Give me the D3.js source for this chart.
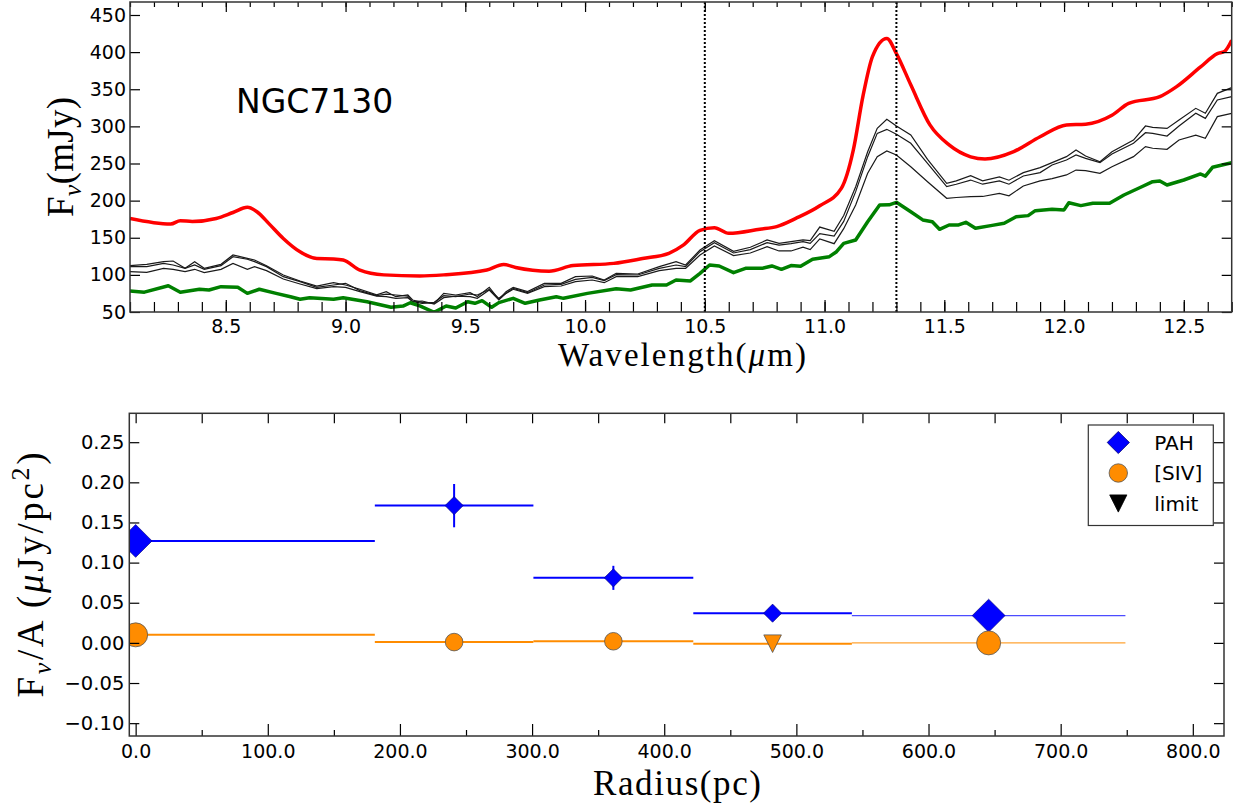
<!DOCTYPE html>
<html>
<head>
<meta charset="utf-8">
<script src="https://cdn.jsdelivr.net/npm/d3@7"></script>
<style>
  body { margin: 0; background: #fff; }
  svg { font-family: "DejaVu Sans", sans-serif; }
</style>
</head>
<body>
<div id="chart"></div>
<script>
/* global d3 */

var w = 1233,
    h = 809;

// ---- top panel: NGC7130 spectra (wavelength in micron, flux in mJy) ----
var wlRed = [8.10, 8.27, 8.31, 8.36, 8.46, 8.53, 8.59, 8.63, 8.68, 8.74, 8.81, 8.88, 8.95, 8.99, 9.06, 9.16, 9.31, 9.41, 9.59, 9.66,
    9.71, 9.85, 9.95, 10.12, 10.24, 10.35, 10.41, 10.48, 10.54, 10.60, 10.73, 10.80, 10.88, 10.98, 11.07, 11.12, 11.16, 11.20, 11.26, 11.30,
    11.36, 11.44, 11.52, 11.61, 11.67, 11.79, 11.90, 12.01, 12.09, 12.20, 12.27, 12.40, 12.47, 12.57, 12.64, 12.67, 12.70];
var fluxRed = [176, 168.5, 173, 172, 176, 184, 191, 185, 169, 149, 131, 122, 121.5, 120, 106.5, 100, 98.5, 100, 106.5, 114,
    110, 105, 112.5, 115.5, 122, 129, 140, 160, 163.5, 156, 161.5, 165, 176, 193, 216.5, 268, 340, 394, 418.5, 398,
    356, 302, 275, 259, 256, 266, 286, 302, 303, 315, 331, 340, 353.5, 380, 398, 401, 416];

var wlGreen = [8.10, 8.16, 8.26, 8.31, 8.39, 8.43, 8.48, 8.55, 8.59, 8.64, 8.71, 8.77, 8.81, 8.85, 8.95, 8.99, 9.09, 9.19, 9.24, 9.27,
    9.31, 9.37, 9.42, 9.46, 9.51, 9.54, 9.57, 9.61, 9.64, 9.70, 9.75, 9.81, 9.88, 9.91, 10.01, 10.13, 10.19, 10.28, 10.34, 10.38,
    10.44, 10.48, 10.52, 10.56, 10.62, 10.67, 10.74, 10.78, 10.82, 10.86, 10.90, 10.95, 11.02, 11.05, 11.08, 11.13, 11.18, 11.23, 11.27, 11.30,
    11.36, 11.41, 11.45, 11.48, 11.52, 11.56, 11.59, 11.63, 11.70, 11.75, 11.80, 11.85, 11.88, 11.95, 12.00, 12.02, 12.07, 12.12, 12.19, 12.25,
    12.32, 12.37, 12.40, 12.43, 12.50, 12.57, 12.59, 12.62, 12.70];
var fluxGreen = [78.3, 76.7, 85.4, 76.5, 80.6, 79.7, 84.1, 83.2, 75.1, 80.6, 75.1, 70.6, 67.1, 69.3, 67.1, 69.3, 63.9, 56.3, 58, 62.5,
    58.2, 49.6, 58, 55.3, 63.9, 61.7, 65.3, 56.3, 62.6, 68.4, 61.7, 66.2, 70.6, 68.4, 75.1, 81.4, 79.7, 86.4, 86.4, 93.1,
    91.8, 102.1, 113.3, 112, 103, 108.8, 108.8, 112, 107.5, 112.5, 111.5, 121, 124.5, 131.2, 142.5, 147, 171.6, 194, 194.3, 197.7,
    185, 174, 171.6, 161.4, 167.2, 167.2, 170.8, 162.7, 166.7, 169.5, 178.4, 179.8, 186.5, 188.4, 187.5, 197.2, 193.3, 196.4, 196.4, 207.6,
    218, 225.5, 226.5, 221, 227.8, 235.9, 232.9, 244.9, 251];

var wlBlack = [8.10, 8.17, 8.24, 8.28, 8.33, 8.37, 8.41, 8.48, 8.53, 8.59, 8.62, 8.67, 8.74, 8.81, 8.88, 8.95, 9.00, 9.06, 9.13, 9.17,
    9.21, 9.26, 9.28, 9.32, 9.37, 9.41, 9.46, 9.52, 9.55, 9.60, 9.64, 9.67, 9.70, 9.76, 9.83, 9.90, 9.96, 10.03, 10.08, 10.13,
    10.22, 10.31, 10.38, 10.42, 10.48, 10.54, 10.62, 10.69, 10.76, 10.81, 10.86, 10.91, 10.94, 10.98, 11.04, 11.08, 11.13, 11.18, 11.22, 11.26,
    11.30, 11.36, 11.43, 11.51, 11.55, 11.61, 11.66, 11.73, 11.77, 11.83, 11.90, 11.95, 12.01, 12.05, 12.09, 12.15, 12.20, 12.29, 12.34, 12.37,
    12.43, 12.48, 12.55, 12.59, 12.64, 12.70];
var fluxBlack1 = [112.4, 114.2, 117.8, 118.7, 108.8, 117.8, 108.8, 114.2, 126.8, 122.3, 120, 112.4, 99.8, 91.8, 85, 89.5, 86.4, 80.6, 73, 77.4,
    70.6, 72.9, 66.2, 63, 61.7, 75.1, 72.9, 76, 70.7, 83.2, 67.1, 77.4, 83.2, 77.4, 88.6, 88.6, 97.6, 98.5, 93.1, 102.1,
    101.2, 111.1, 117.8, 113.3, 133.5, 146.1, 131.8, 137.2, 147, 142.5, 144.7, 147, 146.1, 164.4, 158.6, 180, 218.8, 265.9, 297.3, 309.5,
    300.5, 288.4, 255.6, 223.3, 226.6, 233.5, 226.6, 232, 227.5, 237.7, 244.4, 251.2, 259.2, 268.2, 260.1, 252.4, 265.9, 281.6, 300.5, 298.7,
    297.3, 308.6, 324.3, 317.6, 344.5, 352.2];
var fluxBlack2 = [111.1, 111.1, 115.5, 113.3, 108.8, 113.3, 107.5, 112.4, 124.5, 121, 117.8, 111.1, 97.6, 90.9, 83.2, 86.4, 88.6, 78.8, 72, 74,
    72.9, 71.5, 63.9, 61.7, 63, 72, 70.7, 74.2, 72.9, 80.5, 68.4, 75.1, 81.9, 76, 86.4, 87.2, 94, 96.7, 92.2, 100.3,
    99.8, 108.8, 113.3, 111.1, 131.3, 143.4, 129.5, 134, 143.4, 140, 142, 144.7, 142.5, 155.5, 152.3, 172, 212.1, 259.2, 290.6, 296,
    289.3, 277.2, 250.2, 218.8, 222.1, 227.7, 222.1, 226.6, 222.1, 233.2, 237.7, 248, 254.7, 261.5, 256.9, 251.1, 262.8, 277.2, 291.5, 290.6,
    287, 300.5, 317.6, 310.8, 335.5, 340];
var fluxBlack3 = [104.3, 103.5, 108.8, 107.5, 104.3, 107.5, 103, 107.5, 115.5, 107.5, 111.1, 105.7, 94.4, 87.7, 81.4, 84.1, 83.2, 77.4, 71.5, 70.7,
    68.4, 69.3, 63.9, 64.8, 60.8, 69.3, 71.5, 70.7, 68.4, 79.6, 66.2, 75.1, 80.6, 75.1, 84.1, 85, 90.9, 93.1, 89.5, 97.6,
    97.6, 105.7, 108.8, 108.8, 126.8, 138.9, 126, 129.5, 138, 132.2, 132.2, 137.2, 134, 148.5, 142, 162.2, 194.1, 236.8, 259.2, 266.8,
    261.4, 245.7, 225.5, 203.1, 204.2, 205.3, 205.6, 209.8, 206.5, 219.7, 226.6, 229.7, 234.6, 241.2, 240.3, 236.8, 245.7, 259.2, 272.7, 270.5,
    269.1, 281.6, 288.3, 284, 313.1, 317.6];

var featureLines = [10.5, 11.3];
var specTicksX = [8.5, 9.0, 9.5, 10.0, 10.5, 11.0, 11.5, 12.0, 12.5];
var specTicksY = [50, 100, 150, 200, 250, 300, 350, 400, 450];

// ---- bottom panel: surface brightness vs radius ----
var radius = [0, 241, 361.5, 482, 645.5];
var binLo = [0, 181, 301, 422, 542];
var binHi = [181, 301, 422, 542, 749];
var pahFlux = [0.127, 0.171, 0.081, 0.037, 0.034];
var pahErr = [0.018, 0.027, 0.015, 0.004, 0.004];
var sivFlux = [0.010, 0.001, 0.002, -0.001, 0.000];
var sivLimit = [false, false, false, true, false];
var profTicksX = [0, 100, 200, 300, 400, 500, 600, 700, 800];
var profMinorX = [50, 150, 250, 350, 450, 550, 650, 750];
var profTicksY = [-0.10, -0.05, 0.00, 0.05, 0.10, 0.15, 0.20, 0.25];
var legendNames = ["PAH", "[SIV]", "limit"];

var blue = "#0000ff", orange = "#ff8c00";

var svg = d3.select("#chart").append("svg")
    .attr("width", w)
    .attr("height", h);

function styleAxis(sel, fontSize) {
    sel.select(".domain").remove();
    sel.attr("font-family", "DejaVu Sans").attr("font-size", fontSize);
    sel.selectAll(".tick line").attr("stroke", "#000").attr("stroke-width", 1.2);
    sel.selectAll(".tick text").attr("fill", "#000");
}

// =================== top panel ===================
var x1 = d3.scaleLinear().domain([8.1, 12.7]).range([130, 1231.7]);
var y1 = d3.scaleLinear().domain([50, 467.5]).range([312, 2]);

svg.append("clipPath").attr("id", "clip1")
    .append("rect")
    .attr("x", x1.range()[0]).attr("y", y1.range()[1])
    .attr("width", x1.range()[1] - x1.range()[0])
    .attr("height", y1.range()[0] - y1.range()[1]);

var g1 = svg.append("g");
var plot1 = g1.append("g").attr("clip-path", "url(#clip1)");

var specLine = d3.line()
    .x(function(d) { return x1(d[0]); })
    .y(function(d) { return y1(d[1]); });

plot1.append("path")
    .datum(d3.zip(wlRed, fluxRed))
    .attr("fill", "none").attr("stroke", "#ff0000").attr("stroke-width", 3.5)
    .attr("stroke-linejoin", "round")
    .attr("d", specLine.curve(d3.curveMonotoneX));

specLine.curve(d3.curveLinear);
[fluxBlack1, fluxBlack2, fluxBlack3].forEach(function(f) {
    plot1.append("path")
        .datum(d3.zip(wlBlack, f))
        .attr("fill", "none").attr("stroke", "#1a1a1a").attr("stroke-width", 1.2)
        .attr("d", specLine);
});

plot1.append("path")
    .datum(d3.zip(wlGreen, fluxGreen))
    .attr("fill", "none").attr("stroke", "#008000").attr("stroke-width", 3.5)
    .attr("stroke-linejoin", "round")
    .attr("d", specLine);

plot1.selectAll(".feature")
    .data(featureLines)
    .enter().append("line")
    .attr("class", "feature")
    .attr("x1", function(d) { return x1(d); })
    .attr("x2", function(d) { return x1(d); })
    .attr("y1", y1.range()[0]).attr("y2", y1.range()[1])
    .attr("stroke", "#000").attr("stroke-width", 2)
    .attr("stroke-dasharray", "2,2");

// axes
g1.append("g").attr("transform", "translate(0," + y1.range()[0] + ")")
    .call(d3.axisBottom(x1).tickValues(x1.ticks(46)).tickSize(-10).tickFormat(""))
    .call(styleAxis, 19);
g1.append("g").attr("transform", "translate(0," + y1.range()[0] + ")")
    .call(d3.axisBottom(x1).tickValues(specTicksX).tickSize(-12).tickPadding(8).tickFormat(d3.format(".1f")))
    .call(styleAxis, 19);
g1.append("g").attr("transform", "translate(0," + y1.range()[1] + ")")
    .call(d3.axisTop(x1).tickValues(x1.ticks(46)).tickSize(-5).tickFormat(""))
    .call(styleAxis, 19);
g1.append("g").attr("transform", "translate(0," + y1.range()[1] + ")")
    .call(d3.axisTop(x1).tickValues(specTicksX).tickSize(-10).tickFormat(""))
    .call(styleAxis, 19);
g1.append("g").attr("transform", "translate(" + x1.range()[0] + ",0)")
    .call(d3.axisLeft(y1).tickValues(specTicksY).tickSize(-10).tickPadding(4))
    .call(styleAxis, 19);
g1.append("g").attr("transform", "translate(" + x1.range()[1] + ",0)")
    .call(d3.axisRight(y1).tickValues(specTicksY).tickSize(-10).tickFormat(""))
    .call(styleAxis, 19);

g1.append("rect")
    .attr("x", x1.range()[0]).attr("y", y1.range()[1])
    .attr("width", x1.range()[1] - x1.range()[0])
    .attr("height", y1.range()[0] - y1.range()[1])
    .attr("fill", "none").attr("stroke", "#333").attr("stroke-width", 1.5);

g1.append("text")
    .attr("x", 236).attr("y", 113)
    .attr("font-size", 33)
    .text("NGC7130");

// axis labels (serif, like mathtext)
g1.append("text")
    .attr("x", 682).attr("y", 366)
    .attr("text-anchor", "middle")
    .attr("font-family", "Liberation Serif, serif").attr("font-size", 33)
    .attr("textLength", 248).attr("lengthAdjust", "spacing")
    .call(function(t) {
        t.append("tspan").text("Wavelength(");
        t.append("tspan").attr("font-style", "italic").text("\u03bc");
        t.append("tspan").text("m)");
    });

g1.append("text")
    .attr("transform", "translate(73,157) rotate(-90)")
    .attr("text-anchor", "middle")
    .attr("font-family", "Liberation Serif, serif").attr("font-size", 37)
    .attr("textLength", 120).attr("lengthAdjust", "spacing")
    .call(function(t) {
        t.append("tspan").text("F");
        t.append("tspan").attr("font-style", "italic").attr("font-size", 26).attr("dy", 8).text("\u03bd");
        t.append("tspan").attr("dy", -8).text("(mJy)");
    });

// =================== bottom panel ===================
var x2 = d3.scaleLinear().domain([-4.8, 823.6]).range([129.3, 1224]);
var y2 = d3.scaleLinear().domain([-0.116, 0.286]).range([736, 413.3]);

svg.append("clipPath").attr("id", "clip2")
    .append("rect")
    .attr("x", x2.range()[0]).attr("y", y2.range()[1])
    .attr("width", x2.range()[1] - x2.range()[0])
    .attr("height", y2.range()[0] - y2.range()[1]);

var g2 = svg.append("g");
var plot2 = g2.append("g").attr("clip-path", "url(#clip2)");

var last = radius.length - 1;
function isBig(i) { return i === 0 || i === last; }

var diamond = d3.symbol().type(d3.symbolSquare);
var dot = d3.symbol().type(d3.symbolCircle);

function triangleDown(s) {
    var p = d3.path();
    p.moveTo(-s, -s);
    p.lineTo(s, -s);
    p.lineTo(0, s);
    p.closePath();
    return p.toString();
}

// PAH
plot2.selectAll(".pah-x")
    .data(radius)
    .enter().append("line")
    .attr("x1", function(d, i) { return x2(binLo[i]); })
    .attr("x2", function(d, i) { return x2(binHi[i]); })
    .attr("y1", function(d, i) { return y2(pahFlux[i]); })
    .attr("y2", function(d, i) { return y2(pahFlux[i]); })
    .attr("stroke", blue)
    .attr("stroke-width", function(d, i) { return i === last ? 1.3 : 2; })
    .attr("stroke-opacity", function(d, i) { return i === last ? 0.7 : 1; });

plot2.selectAll(".pah-y")
    .data(radius)
    .enter().append("line")
    .attr("x1", function(d) { return x2(d); })
    .attr("x2", function(d) { return x2(d); })
    .attr("y1", function(d, i) { return y2(pahFlux[i] - pahErr[i]); })
    .attr("y2", function(d, i) { return y2(pahFlux[i] + pahErr[i]); })
    .attr("stroke", blue).attr("stroke-width", 2);

plot2.selectAll(".pah-pt")
    .data(radius)
    .enter().append("path")
    .attr("transform", function(d, i) {
        return "translate(" + x2(d) + "," + y2(pahFlux[i]) + ") rotate(45)";
    })
    .attr("d", function(d, i) { return diamond.size(isBig(i) ? 540 : 165)(); })
    .attr("fill", blue).attr("stroke", "#00007a").attr("stroke-width", 0.6);

// [SIV]
plot2.selectAll(".siv-x")
    .data(radius)
    .enter().append("line")
    .attr("x1", function(d, i) { return x2(binLo[i]); })
    .attr("x2", function(d, i) { return x2(binHi[i]); })
    .attr("y1", function(d, i) { return y2(sivFlux[i]); })
    .attr("y2", function(d, i) { return y2(sivFlux[i]); })
    .attr("stroke", orange)
    .attr("stroke-width", function(d, i) { return i === last ? 1.3 : 2; })
    .attr("stroke-opacity", function(d, i) { return i === last ? 0.8 : 1; });

plot2.selectAll(".siv-pt")
    .data(radius)
    .enter().append("path")
    .attr("transform", function(d, i) {
        return "translate(" + x2(d) + "," + y2(sivFlux[i]) + ")";
    })
    .attr("d", function(d, i) {
        if (sivLimit[i]) return triangleDown(8.8);
        var r = isBig(i) ? 12 : 8.8;
        return dot.size(Math.PI * r * r)();
    })
    .attr("fill", orange).attr("stroke", "#555").attr("stroke-width", 0.8);

// axes
g2.append("g").attr("transform", "translate(0," + y2.range()[0] + ")")
    .call(d3.axisBottom(x2).tickValues(profMinorX).tickSize(-6).tickFormat(""))
    .call(styleAxis, 19);
g2.append("g").attr("transform", "translate(0," + y2.range()[0] + ")")
    .call(d3.axisBottom(x2).tickValues(profTicksX).tickSize(-12).tickPadding(9).tickFormat(d3.format(".1f")))
    .call(styleAxis, 19);
g2.append("g").attr("transform", "translate(0," + y2.range()[1] + ")")
    .call(d3.axisTop(x2).tickValues(profTicksX.concat(profMinorX)).tickSize(-10).tickFormat(""))
    .call(styleAxis, 19);
g2.append("g").attr("transform", "translate(" + x2.range()[0] + ",0)")
    .call(d3.axisLeft(y2).tickValues(profTicksY).tickSize(-10).tickPadding(5).tickFormat(d3.format(".2f")))
    .call(styleAxis, 19.5);
g2.append("g").attr("transform", "translate(" + x2.range()[1] + ",0)")
    .call(d3.axisRight(y2).tickValues(profTicksY).tickSize(-10).tickFormat(""))
    .call(styleAxis, 19);

g2.append("rect")
    .attr("x", x2.range()[0]).attr("y", y2.range()[1])
    .attr("width", x2.range()[1] - x2.range()[0])
    .attr("height", y2.range()[0] - y2.range()[1])
    .attr("fill", "none").attr("stroke", "#333").attr("stroke-width", 1.5);

// legend
var legend = g2.append("g").attr("transform", "translate(1088.3,425)");
legend.append("rect")
    .attr("width", 125).attr("height", 100.5)
    .attr("fill", "#fff").attr("stroke", "#333").attr("stroke-width", 1.2);

var legendY = d3.scalePoint().domain(legendNames).range([17.5, 78.5]);
var legendItems = legend.selectAll(".leg")
    .data(legendNames)
    .enter().append("g")
    .attr("transform", function(d) { return "translate(0," + legendY(d) + ")"; });

legendItems.append("path")
    .attr("transform", function(d, i) { return "translate(30,0)" + (i === 0 ? " rotate(45)" : ""); })
    .attr("d", function(d, i) {
        if (i === 0) return diamond.size(245)();
        if (i === 1) return dot.size(Math.PI * 9.2 * 9.2)();
        return triangleDown(8.6);
    })
    .attr("fill", function(d, i) { return [blue, orange, "#000"][i]; })
    .attr("stroke", function(d, i) { return ["#00007a", "#555", "#000"][i]; })
    .attr("stroke-width", 0.8);

legendItems.append("text")
    .attr("x", 66).attr("dy", "0.36em")
    .attr("font-size", 20)
    .text(function(d) { return d; });

// axis labels
g2.append("text")
    .attr("x", 677).attr("y", 795)
    .attr("text-anchor", "middle")
    .attr("font-family", "Liberation Serif, serif").attr("font-size", 35)
    .attr("textLength", 168).attr("lengthAdjust", "spacing")
    .text("Radius(pc)");

g2.append("text")
    .attr("transform", "translate(43,575) rotate(-90)")
    .attr("text-anchor", "middle")
    .attr("font-family", "Liberation Serif, serif").attr("font-size", 37)
    .attr("textLength", 245).attr("lengthAdjust", "spacing")
    .call(function(t) {
        t.append("tspan").text("F");
        t.append("tspan").attr("font-style", "italic").attr("font-size", 26).attr("dy", 8).text("\u03bd");
        t.append("tspan").attr("dy", -8).text("/A (");
        t.append("tspan").attr("font-style", "italic").text("\u03bc");
        t.append("tspan").text("Jy/pc");
        t.append("tspan").attr("font-size", 26).attr("dy", -14).text("2");
        t.append("tspan").attr("dy", 14).text(")");
    });
</script>
</body>
</html>
